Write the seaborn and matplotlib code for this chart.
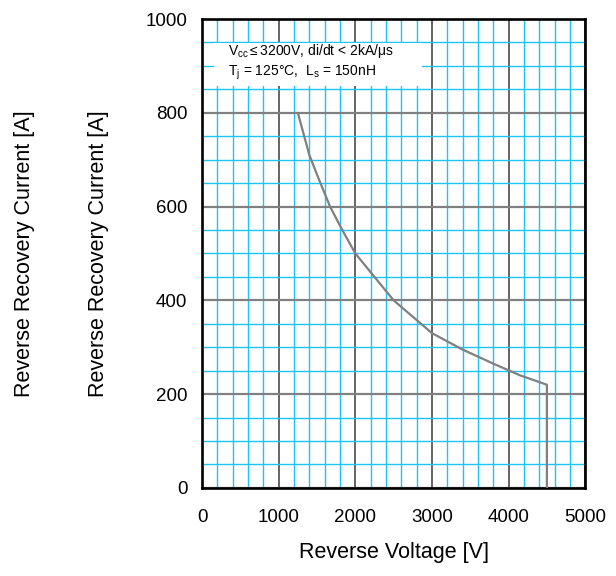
import numpy as np
import pandas as pd
import seaborn as sns
import matplotlib.pyplot as plt
from matplotlib.ticker import MultipleLocator
from matplotlib.patches import Rectangle

# curve
voltage = [1250, 1400, 1520, 1670, 1830, 2000, 2200, 2500, 3000, 3400, 3800, 4150, 4500, 4500]
current = [800, 710, 660, 600, 550, 500, 460, 400, 330, 295, 265, 240, 220, 0]

x_ticks = [0, 1000, 2000, 3000, 4000, 5000]
y_ticks = [0, 200, 400, 600, 800, 1000]
note_lines = [r"V$_{cc}$$\leq$3200V, di/dt < 2kA/$\mu$s",
              r"T$_{\rm j}$ = 125°C,  L$_{\rm s}$ = 150nH"]
ylab = "Reverse Recovery Current [A]"
xlab = "Reverse Voltage [V]"

sns.set_theme(style="white")
plt.rcParams['font.family'] = ['Liberation Sans', 'DejaVu Sans']
plt.rcParams['mathtext.fontset'] = 'custom'
plt.rcParams['mathtext.rm'] = 'Liberation Sans'
plt.rcParams['mathtext.it'] = 'Liberation Sans'
plt.rcParams['text.color'] = 'black'

df = pd.DataFrame({'V': voltage, 'I': current})

fig = plt.figure(figsize=(6.16, 5.76), dpi=100)
ax = fig.add_axes([0.328, 0.153, 0.622, 0.814])

sns.lineplot(data=df, x='V', y='I', ax=ax, color='#808080', linewidth=1.6,
             estimator=None, sort=False, zorder=3)

ax.set_xlim(0, 5000)
ax.set_ylim(0, 1000)
ax.set_xticks(x_ticks)
ax.set_yticks(y_ticks)
ax.xaxis.set_minor_locator(MultipleLocator(200))
ax.yaxis.set_minor_locator(MultipleLocator(50))

ax.set_axisbelow(True)
ax.grid(True, which='minor', color='#1cc6f4', linewidth=1.0)
ax.grid(True, which='major', axis='x', color='#3a3a3a', linewidth=1.1)
ax.grid(True, which='major', axis='y', color='#808080', linewidth=1.6)

for s in ax.spines.values():
    s.set_visible(True)
    s.set_color('black')
    s.set_linewidth(1.9)

ax.tick_params(which='major', direction='in', length=5, width=1.8, color='black',
               labelsize=13.5, labelcolor='black')
ax.tick_params(which='minor', length=0)
ax.tick_params(axis='x', pad=15)
ax.tick_params(axis='y', pad=10.5)

ax.add_patch(Rectangle((150, 857), 2720, 92, facecolor='white', edgecolor='none', zorder=2))
ax.text(340, 923, note_lines[0], fontsize=10, va='baseline', zorder=4, color='black')
ax.text(340, 880, note_lines[1], fontsize=10, va='baseline', zorder=4, color='black')

ax.set_xlabel(xlab, fontsize=15.5, color='black')
ax.xaxis.set_label_coords(0.5, -0.115)
ax.set_ylabel(ylab, fontsize=15.5, color='black')
ax.yaxis.set_label_coords(-0.243, 0.5)
fig.text(24.5 / 616, 0.56, ylab, fontsize=15.5, rotation=90, ha='center', va='center',
         color='black')

plt.savefig('out.png', dpi=100)
